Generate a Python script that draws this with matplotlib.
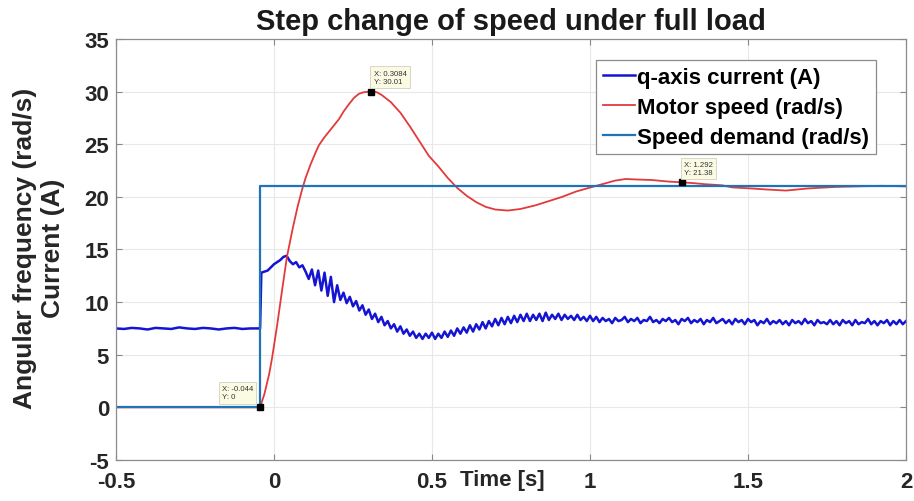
"""Step change of speed under full load: q-axis current, motor speed and demand."""

import numpy as np
import matplotlib
matplotlib.use("Agg")
import matplotlib.pyplot as plt

plt.rcParams['font.family'] = ['Liberation Sans', 'DejaVu Sans']
plt.rcParams['axes.unicode_minus'] = False

# --- speed demand (rad/s): step at t = -0.044 s
demand_t = [-0.5, -0.044, -0.044, 2.0]
demand_v = [0.0, 0.0, 21.0, 21.0]

# --- motor speed (rad/s)
speed_t = [-0.5, -0.044, -0.03, -0.015, -0.006, 0.01, 0.025, 0.041, 0.06, 0.075,
           0.089, 0.1, 0.116, 0.13, 0.142, 0.158, 0.174, 0.19, 0.206, 0.22,
           0.237, 0.253, 0.269, 0.285, 0.3084, 0.325, 0.34, 0.37, 0.40, 0.43,
           0.46, 0.49, 0.52, 0.55, 0.58, 0.61, 0.64, 0.67, 0.70, 0.74,
           0.78, 0.828, 0.87, 0.912, 0.955, 1.002, 1.05, 1.08, 1.113, 1.15,
           1.197, 1.25, 1.292, 1.33, 1.366, 1.418, 1.45, 1.51, 1.56, 1.62,
           1.69, 1.78, 1.85, 1.92, 2.0]
speed_v = [0.0, 0.0, 1.3, 3.2, 4.7, 7.8, 11.0, 14.3, 17.1, 19.1,
           20.7, 21.8, 23.1, 24.1, 24.9, 25.6, 26.2, 26.8, 27.4, 28.1,
           28.8, 29.4, 29.8, 29.95, 30.01, 29.95, 29.7, 29.0, 28.0, 26.7,
           25.3, 23.9, 22.9, 21.8, 20.85, 20.1, 19.5, 19.05, 18.8, 18.7,
           18.85, 19.2, 19.6, 20.0, 20.5, 20.9, 21.3, 21.55, 21.7, 21.65,
           21.6, 21.45, 21.38, 21.3, 21.2, 21.1, 20.9, 20.8, 20.7, 20.6,
           20.8, 20.95, 21.0, 21.05, 21.0]

# --- q-axis current (A): before the step
iq_pre_t = [-0.5, -0.475, -0.45, -0.425, -0.4, -0.375, -0.35, -0.325, -0.3, -0.275,
            -0.25, -0.225, -0.2, -0.175, -0.15, -0.125, -0.1, -0.075, -0.05, -0.044]
iq_pre_v = [7.5, 7.45, 7.55, 7.5, 7.4, 7.55, 7.5, 7.45, 7.6, 7.5,
            7.45, 7.55, 7.5, 7.4, 7.5, 7.55, 7.45, 7.5, 7.5, 7.5]

# --- q-axis current (A): after the step, sampled every 10 ms from -0.04 s
iq_post_t = np.round(np.arange(-4, 201) * 0.01, 2)
iq_post_v = [
    12.8, 12.9, 13.0, 13.3, 13.6, 13.8, 14.0, 14.3, 14.4, 13.9, 13.6, 13.8, 13.3, 13.5, 12.9,
    12.2, 13.1, 11.6, 13.0, 11.1, 12.8, 10.6, 12.4, 10.0, 11.6, 10.2,
    10.9, 9.9, 10.5, 9.6, 10.1, 9.2, 9.7, 8.8, 9.3, 8.4,
    8.9, 8.1, 8.6, 7.8, 8.2, 7.5, 7.9, 7.2, 7.7, 7.0,
    7.4, 6.8, 7.2, 6.6, 7.0, 6.5, 7.0, 6.6, 7.1,
    6.5, 7.0, 6.6, 7.2, 6.7, 7.3, 6.8, 7.5, 7.0, 7.6,
    7.1, 7.8, 7.2, 7.9, 7.4, 8.1, 7.5, 8.2, 7.7, 8.4,
    7.8, 8.5, 7.9, 8.6, 8.0, 8.7, 8.1, 8.8, 8.2, 8.9,
    8.2, 8.8, 8.3, 8.9, 8.2, 9.0, 8.3, 8.8, 8.4, 8.9,
    8.3, 8.8, 8.4, 8.7, 8.3, 8.8, 8.3, 8.6, 8.2, 8.7,
    8.2, 8.6, 8.1, 8.5, 8.2, 8.4, 8.0, 8.5, 8.2, 8.3,
    8.6, 8.1, 8.4, 8.2, 8.5, 8.0, 8.3, 8.2, 8.6, 8.1,
    8.3, 8.0, 8.4, 8.2, 8.5, 8.1, 8.3, 7.9, 8.4, 8.2,
    8.5, 8.0, 8.3, 8.1, 8.4, 7.9, 8.3, 8.1, 8.5, 8.0,
    8.2, 8.4, 8.0, 8.3, 7.9, 8.4, 8.1, 8.3, 7.9, 8.4,
    8.1, 8.3, 7.8, 8.2, 8.0, 8.4, 7.9, 8.2, 8.0, 8.3,
    7.9, 8.2, 7.8, 8.3, 8.0, 8.2, 7.9, 8.4, 8.0, 8.2,
    7.8, 8.3, 8.0, 8.1, 7.9, 8.3, 7.9, 8.2, 7.8, 8.3,
    8.0, 8.2, 7.8, 8.3, 7.9, 8.1, 8.0, 8.4, 7.9, 8.2,
    7.8, 8.2, 8.0, 8.3, 7.8, 8.2, 7.9, 8.3, 7.9, 8.2,
]
assert len(iq_post_v) == len(iq_post_t)

# --- data tips shown on the figure: (x, y, text, offset in points, alignment)
tips = [
    (-0.044, 0.0, "X: -0.044\nY: 0", (-5, 5), 'right'),
    (0.3084, 30.01, "X: 0.3084\nY: 30.01", (1.5, 5), 'left'),
    (1.292, 21.38, "X: 1.292\nY: 21.38", (1.5, 4.5), 'left'),
]

C_IQ = '#1414d2'
C_SPEED = '#e23a3a'
C_DEMAND = '#1f74b8'

fig = plt.figure(figsize=(9.14, 5.02), dpi=100)
ax = fig.add_axes([0.1269, 0.0817, 0.8643, 0.8386])

iq_t = list(iq_pre_t) + list(iq_post_t)
iq_v = list(iq_pre_v) + list(iq_post_v)
ax.plot(iq_t, iq_v, color=C_IQ, linewidth=1.8, label='q-axis current (A)')
ax.plot(speed_t, speed_v, color=C_SPEED, linewidth=1.3, label='Motor speed (rad/s)')
ax.plot(demand_t, demand_v, color=C_DEMAND, linewidth=1.6, label='Speed demand (rad/s)')

for x, y, txt, off, ha in tips:
    ax.plot([x], [y], marker='s', color='black', markersize=4, zorder=6)
    ax.annotate(txt, xy=(x, y), xytext=off, textcoords='offset points',
                ha=ha, va='bottom', multialignment='left',
                fontsize=5.6, color='#333333', zorder=7,
                bbox=dict(boxstyle='square,pad=0.4', facecolor='#fbfbe4',
                          edgecolor='#d0d0c0', linewidth=0.6))

ax.set_xlim(-0.5, 2.0)
ax.set_ylim(-5, 35)
ax.set_xticks([-0.5, 0, 0.5, 1, 1.5, 2])
ax.set_xticklabels(['-0.5', '0', '0.5', '1', '1.5', '2'])
ax.set_yticks(range(-5, 36, 5))
ax.tick_params(direction='in', length=4, width=0.8, color='#888888',
               top=True, right=True, labelsize=16)
ax.tick_params(axis='x', pad=8)
ax.tick_params(axis='y', pad=5)
for lab in ax.get_xticklabels() + ax.get_yticklabels():
    lab.set_fontweight('bold')
    lab.set_color('#262626')
for sp in ax.spines.values():
    sp.set_color('#8c8c8c')
    sp.set_linewidth(0.9)
ax.grid(True, color='#e8e8e8', linewidth=0.8)
ax.set_axisbelow(True)

leg = ax.legend(loc='upper right', bbox_to_anchor=(0.962, 0.95), borderaxespad=0,
                fancybox=False, framealpha=1, edgecolor='#8c8c8c',
                prop={'weight': 'bold', 'size': 16}, handlelength=1.45,
                handletextpad=0.1, labelspacing=0.4, borderpad=0.3)
leg.get_frame().set_linewidth(0.9)

ax.set_title('Step change of speed under full load', fontsize=21,
             fontweight='bold', color='#1a1a1a', pad=7)
fig.text(502 / 914, 1 - 481 / 502, 'Time [s]', ha='center', va='center',
         fontsize=16, fontweight='bold', color='#262626')
fig.text(39 / 914, 1 - 248 / 502, 'Angular frequency (rad/s)\nCurrent (A)',
         rotation=90, ha='center', va='center', multialignment='center',
         fontsize=19, fontweight='bold', color='#262626')

fig.savefig('out.png', dpi=100)
